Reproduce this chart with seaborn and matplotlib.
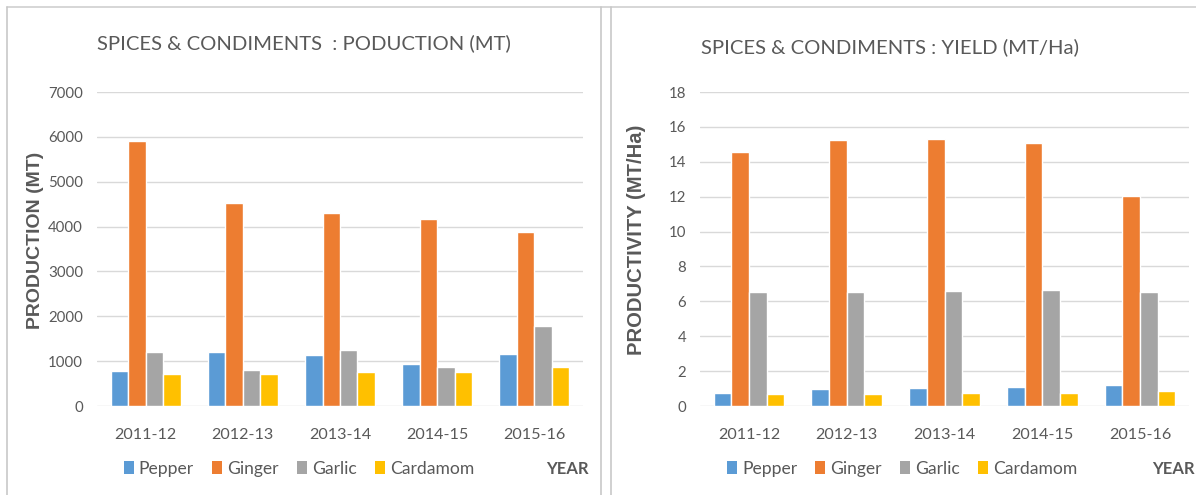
import matplotlib
matplotlib.use("Agg")
import matplotlib.pyplot as plt
from matplotlib.patches import Patch
from matplotlib.lines import Line2D
import seaborn as sns
import pandas as pd

years = ["2011-12", "2012-13", "2013-14", "2014-15", "2015-16"]
spices = ["Pepper", "Ginger", "Garlic", "Cardamom"]

production_pepper = [770, 1200, 1130, 940, 1160]
production_ginger = [5910, 4530, 4300, 4170, 3870]
production_garlic = [1200, 810, 1250, 870, 1790]
production_cardamom = [720, 720, 750, 750, 870]

yield_pepper = [0.77, 0.96, 1.02, 1.09, 1.20]
yield_ginger = [14.55, 15.23, 15.29, 15.05, 12.03]
yield_garlic = [6.55, 6.55, 6.59, 6.65, 6.53]
yield_cardamom = [0.70, 0.70, 0.72, 0.75, 0.85]

colors = {"Pepper": "#5B9BD5", "Ginger": "#ED7D31", "Garlic": "#A5A5A5", "Cardamom": "#FFC000"}
text_gray = "#595959"
grid_gray = "#D9D9D9"


def long_frame(series):
    rows = []
    for spice, vals in zip(spices, series):
        for yr, v in zip(years, vals):
            rows.append({"year": yr, "spice": spice, "value": v})
    return pd.DataFrame(rows)


prod_df = long_frame([production_pepper, production_ginger, production_garlic, production_cardamom])
yield_df = long_frame([yield_pepper, yield_ginger, yield_garlic, yield_cardamom])

sns.set_theme(style="white")
plt.rcParams["font.family"] = ["Lato", "DejaVu Sans"]

W, H = 1196, 495
fig = plt.figure(figsize=(W / 100, H / 100), dpi=100)
fig.patch.set_facecolor("white")


def fx(px):
    return px / W


def fy(py):
    return 1 - py / H


# panel frames
fig.add_artist(Line2D([fx(7), fx(1196)], [fy(7), fy(7)], color="#D0D0D0", lw=1.2))
for xv in [7, 600.5, 610.5]:
    fig.add_artist(Line2D([fx(xv), fx(xv)], [fy(7), fy(495)], color="#C8C8C8", lw=1.2))

panels = [
    dict(df=prod_df, left=97, right=583, ymax=7000, step=1000,
         title="SPICES & CONDIMENTS  : PODUCTION (MT)", title_x=304, title_y=43,
         ylabel="PRODUCTION (MT)", ylabel_size=14, ylabel_x=36, year_right=589),
    dict(df=yield_df, left=700, right=1189, ymax=18, step=2,
         title="SPICES & CONDIMENTS : YIELD (MT/Ha)", title_x=890, title_y=47,
         ylabel="PRODUCTIVITY (MT/Ha)", ylabel_size=14.6, ylabel_x=637, year_right=1195),
]

top_px, bottom_px = 92, 406

for p in panels:
    ax = fig.add_axes([fx(p["left"]), fy(bottom_px), fx(p["right"] - p["left"]),
                       (bottom_px - top_px) / H])
    sns.barplot(data=p["df"], x="year", y="value", hue="spice", hue_order=spices,
                palette=colors, width=0.72, saturation=1, legend=False, ax=ax)
    ax.set_xlim(-0.5, len(years) - 0.5)
    ax.set_ylim(0, p["ymax"])
    ax.set_yticks(range(0, p["ymax"] + 1, p["step"]))
    ax.yaxis.grid(True, color=grid_gray, lw=1.0)
    ax.set_axisbelow(True)
    for s in ax.spines.values():
        s.set_visible(False)
    ax.tick_params(axis="both", length=0, colors=text_gray)
    ax.tick_params(axis="y", pad=10, labelsize=10.8)
    ax.tick_params(axis="x", pad=16, labelsize=11.6)
    ax.set_xlabel("")
    ax.set_ylabel("")

    fig.text(fx(p["ylabel_x"]), fy(240), p["ylabel"], rotation=90, ha="center", va="center",
             family=["Liberation Sans", "DejaVu Sans"], fontweight="bold",
             fontsize=p["ylabel_size"], color=text_gray)
    fig.text(fx(p["title_x"]), fy(p["title_y"]), p["title"], ha="center", va="center",
             fontsize=14.6, color=text_gray)
    fig.text(fx(p["year_right"]), fy(469), "YEAR", ha="right", va="center",
             fontsize=12, fontweight="bold", color=text_gray)

    handles = [Patch(facecolor=colors[s], edgecolor="none", label=s) for s in spices]
    ax.legend(handles=handles, ncol=4, loc="center left",
              bbox_to_anchor=(27 / (p["right"] - p["left"]), (bottom_px - 469) / (bottom_px - top_px)),
              frameon=False, fontsize=12.6, labelcolor=text_gray,
              handlelength=0.55, handleheight=0.75, handletextpad=0.3,
              columnspacing=1.05, borderaxespad=0, borderpad=0)

fig.savefig("out.png", dpi=100, facecolor="white")
